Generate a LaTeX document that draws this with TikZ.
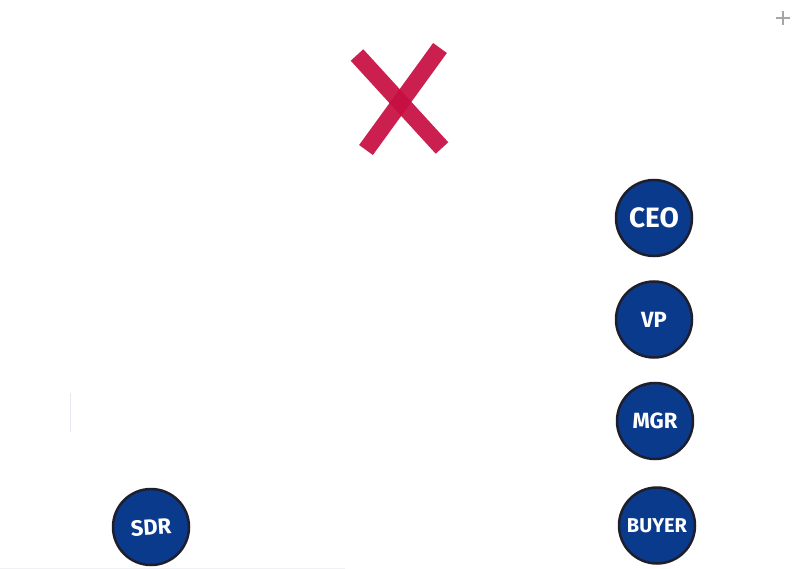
\documentclass[tikz,border=0pt]{standalone}
\usepackage{fontspec}
\setsansfont{Fira Sans}
\usepackage{tikz}
\usetikzlibrary{positioning}

\definecolor{roleblue}{RGB}{10,58,140}
\definecolor{rolerim}{RGB}{30,30,45}
\definecolor{crossred}{RGB}{198,14,66}

\begin{document}
\begin{tikzpicture}[
    x=1pt, y=-1pt,
    node distance=23pt,
    role/.style={
        circle,
        draw=rolerim,
        line width=2.5pt,
        fill=roleblue,
        minimum size=76pt,
        inner sep=0pt,
        text=white,
        font=\sffamily\bfseries\fontsize{22}{22}\selectfont
    },
    stroke/.style={
        draw=crossred,
        line width=17pt,
        opacity=0.93
    }
]
\useasboundingbox (0,0) rectangle (800,569);

% ladder of roles
\node[role, font=\sffamily\bfseries\fontsize{28}{28}\selectfont] (ceo) at (654,218) {CEO};
\node[role, below=of ceo] (vp) {VP};
\node[role, below=of vp, xshift=1pt] (mgr) {MGR};
\node[role, below=26pt of mgr, xshift=2pt, font=\sffamily\bfseries\fontsize{20}{20}\selectfont] (buyer) {BUYER};

\node[role] (sdr) at (151,527) {\rotatebox{4}{SDR}};

% the cross
\coordinate (xa) at (357,55);
\coordinate (xb) at (442,148);
\coordinate (xc) at (440,48);
\coordinate (xd) at (366,150);
\draw[stroke] (xa) -- (xb);
\draw[stroke] (xc) -- (xd);

% corner plus
\coordinate (plus) at (783,18);
\draw[gray!70, line width=1.2pt] ([xshift=-7pt]plus) -- ([xshift=7pt]plus);
\draw[gray!70, line width=1.2pt] ([yshift=-7pt]plus) -- ([yshift=7pt]plus);

% faint marks
\coordinate (ma) at (70,393);
\coordinate (mb) at (70,432);
\draw[blue!20!gray!15, line width=0.8pt] (ma) -- (mb);
\coordinate (mc) at (0,568);
\coordinate (md) at (345,568);
\draw[blue!20!gray!10, line width=0.8pt] (mc) -- (md);

\end{tikzpicture}
\end{document}
